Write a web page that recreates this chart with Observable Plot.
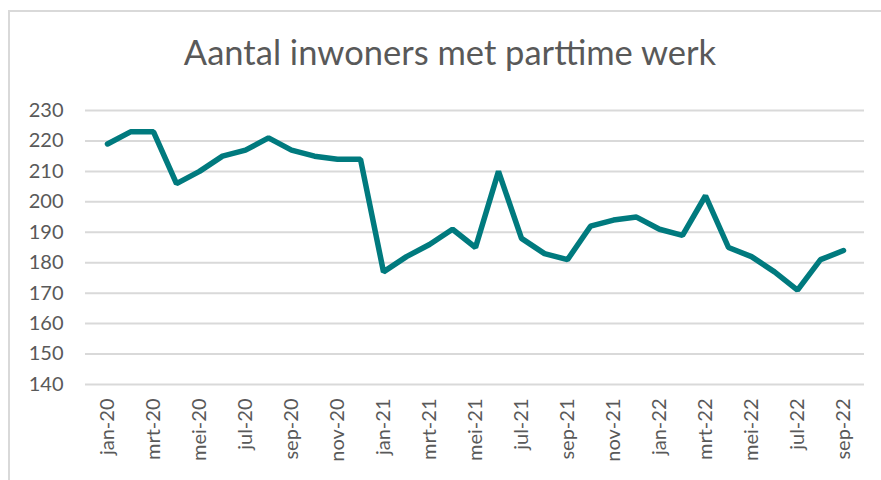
<!DOCTYPE html>
<html>
<head>
<meta charset="utf-8">
<script src="https://cdn.jsdelivr.net/npm/d3@7"></script>
<script src="https://cdn.jsdelivr.net/npm/@observablehq/plot@0.6"></script>
<style>
  body { margin: 0; background: #fff; font-family: Lato, "Open Sans", sans-serif; }
  #wrap { position: relative; width: 881px; height: 480px; overflow: hidden; }
  #frame { position: absolute; left: 8px; top: 10px; width: 900px; height: 500px; border: 2px solid #d9d9d9; box-sizing: border-box; }
  #title { position: absolute; left: 0; width: 900px; top: 31px; text-align: center; font-size: 34.5px; color: #595959; font-family: Lato, sans-serif; }
  #chart { position: absolute; left: 0; top: 90px; }
</style>
</head>
<body>
<div id="wrap">
  <div id="frame"></div>
  <div id="title">Aantal inwoners met parttime werk</div>
  <div id="chart"></div>
</div>
<script>
const months = ["jan-20","feb-20","mrt-20","apr-20","mei-20","jun-20","jul-20","aug-20","sep-20","okt-20","nov-20","dec-20",
                "jan-21","feb-21","mrt-21","apr-21","mei-21","jun-21","jul-21","aug-21","sep-21","okt-21","nov-21","dec-21",
                "jan-22","feb-22","mrt-22","apr-22","mei-22","jun-22","jul-22","aug-22","sep-22"];
const values = [219,223,223,206,210,215,217,221,217,215,214,214,
                177,182,186,191,185,210,188,183,181,192,194,195,
                191,189,202,185,182,177,171,181,184];
const yTicks = [140,150,160,170,180,190,200,210,220,230];
const xTickLabels = months.filter((d, i) => i % 2 === 0);

const data = months.map((m, i) => ({month: m, value: values[i]}));

const chart = Plot.plot({
  width: 881,
  height: 390,
  marginLeft: 85,
  marginRight: 17,
  marginTop: 20,
  marginBottom: 96,
  style: {fontFamily: "Lato, sans-serif", color: "#595959", background: "transparent"},
  x: {type: "point", domain: months, padding: 0.5},
  y: {domain: [140, 230]},
  marks: [
    Plot.ruleY(yTicks, {stroke: "#d9d9d9", strokeWidth: 2}),
    Plot.axisY({ticks: yTicks, tickSize: 0, tickPadding: 22, fontSize: 20, label: null}),
    Plot.axisX({ticks: xTickLabels, tickSize: 0, tickPadding: 14, tickRotate: -90, fontSize: 20, label: null}),
    Plot.line(data, {x: "month", y: "value", stroke: "#007a7e", strokeWidth: 5.5, strokeLinejoin: "miter", strokeLinecap: "round"})
  ]
});
document.getElementById("chart").appendChild(chart);
</script>
</body>
</html>
